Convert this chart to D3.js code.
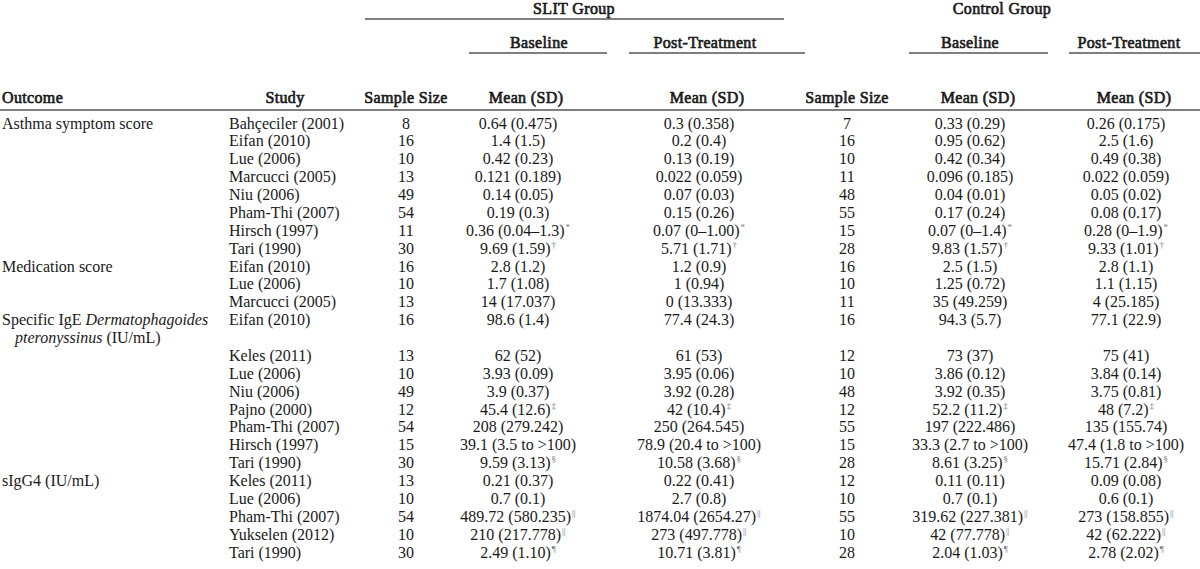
<!DOCTYPE html>
<html>
<head>
<meta charset="utf-8">
<script src="https://cdn.jsdelivr.net/npm/d3@7"></script>
<style>
  body { margin: 0; background: #fff; }
  svg { display: block; }
  text { font-family: "Liberation Serif", "Times New Roman", serif; fill: #1a1a1a; }
</style>
</head>
<body>
<div id="tbl"></div>
<script>
// table contents
const outcomeNames = ["Asthma symptom score", "Medication score",
  "Specific IgE Dermatophagoides\npteronyssinus (IU/mL)", "sIgG4 (IU/mL)"];
const outcomeSizes = [8, 3, 8, 5];
const italicWords = ["Dermatophagoides", "pteronyssinus"];

const studies = ["Bahçeciler (2001)", "Eifan (2010)", "Lue (2006)", "Marcucci (2005)", "Niu (2006)",
  "Pham-Thi (2007)", "Hirsch (1997)", "Tari (1990)",
  "Eifan (2010)", "Lue (2006)", "Marcucci (2005)",
  "Eifan (2010)", "Keles (2011)", "Lue (2006)", "Niu (2006)", "Pajno (2000)", "Pham-Thi (2007)",
  "Hirsch (1997)", "Tari (1990)",
  "Keles (2011)", "Lue (2006)", "Pham-Thi (2007)", "Yukselen (2012)", "Tari (1990)"];

const slitN = [8, 16, 10, 13, 49, 54, 11, 30, 16, 10, 13, 16, 13, 10, 49, 12, 54, 15, 30, 13, 10, 54, 10, 30];
const ctrlN = [7, 16, 10, 11, 48, 55, 15, 28, 16, 10, 11, 16, 12, 10, 48, 12, 55, 15, 28, 12, 10, 55, 10, 28];

// "^" separates the footnote mark
const slitBase = ["0.64 (0.475)", "1.4 (1.5)", "0.42 (0.23)", "0.121 (0.189)", "0.14 (0.05)", "0.19 (0.3)",
  "0.36 (0.04\u20131.3)^*", "9.69 (1.59)^\u2020",
  "2.8 (1.2)", "1.7 (1.08)", "14 (17.037)",
  "98.6 (1.4)", "62 (52)", "3.93 (0.09)", "3.9 (0.37)", "45.4 (12.6)^\u2021", "208 (279.242)",
  "39.1 (3.5 to >100)", "9.59 (3.13)^\u00a7",
  "0.21 (0.37)", "0.7 (0.1)", "489.72 (580.235)^||", "210 (217.778)^||", "2.49 (1.10)^\u00b6"];
const slitPost = ["0.3 (0.358)", "0.2 (0.4)", "0.13 (0.19)", "0.022 (0.059)", "0.07 (0.03)", "0.15 (0.26)",
  "0.07 (0\u20131.00)^*", "5.71 (1.71)^\u2020",
  "1.2 (0.9)", "1 (0.94)", "0 (13.333)",
  "77.4 (24.3)", "61 (53)", "3.95 (0.06)", "3.92 (0.28)", "42 (10.4)^\u2021", "250 (264.545)",
  "78.9 (20.4 to >100)", "10.58 (3.68)^\u00a7",
  "0.22 (0.41)", "2.7 (0.8)", "1874.04 (2654.27)^||", "273 (497.778)^||", "10.71 (3.81)^\u00b6"];
const ctrlBase = ["0.33 (0.29)", "0.95 (0.62)", "0.42 (0.34)", "0.096 (0.185)", "0.04 (0.01)", "0.17 (0.24)",
  "0.07 (0\u20131.4)^*", "9.83 (1.57)^\u2020",
  "2.5 (1.5)", "1.25 (0.72)", "35 (49.259)",
  "94.3 (5.7)", "73 (37)", "3.86 (0.12)", "3.92 (0.35)", "52.2 (11.2)^\u2021", "197 (222.486)",
  "33.3 (2.7 to >100)", "8.61 (3.25)^\u00a7",
  "0.11 (0.11)", "0.7 (0.1)", "319.62 (227.381)^||", "42 (77.778)^||", "2.04 (1.03)^\u00b6"];
const ctrlPost = ["0.26 (0.175)", "2.5 (1.6)", "0.49 (0.38)", "0.022 (0.059)", "0.05 (0.02)", "0.08 (0.17)",
  "0.28 (0\u20131.9)^*", "9.33 (1.01)^\u2020",
  "2.8 (1.1)", "1.1 (1.15)", "4 (25.185)",
  "77.1 (22.9)", "75 (41)", "3.84 (0.14)", "3.75 (0.81)", "48 (7.2)^\u2021", "135 (155.74)",
  "47.4 (1.8 to >100)", "15.71 (2.84)^\u00a7",
  "0.09 (0.08)", "0.6 (0.1)", "273 (158.855)^||", "42 (62.222)^||", "2.78 (2.02)^\u00b6"];

const groupLabels = ["SLIT Group", "Control Group"];
const phaseLabels = ["Baseline", "Post-Treatment"];
const headLabels = ["Outcome", "Study", "Sample Size", "Mean (SD)", "Mean (SD)", "Sample Size", "Mean (SD)", "Mean (SD)"];

const W = 1200, H = 569;
const svg = d3.select("#tbl").append("svg")
  .attr("width", W).attr("height", H);

// column header centres
var colX = d3.scaleOrdinal()
  .domain(["outcome", "study", "n1", "b1", "p1", "n2", "b2", "p2"])
  .range([2, 285, 406, 526, 707, 847, 978, 1134]);
// values sit a little left of their header
var valX = d3.scaleOrdinal()
  .domain(["b1", "p1", "b2", "p2"])
  .range([518, 699, 970, 1126]);
var studyLeft = 229;

// line index of each study row (the wrapped outcome label takes an extra line)
var rowLine = [], line = 0;
outcomeSizes.forEach(function(size, g) {
  var extra = outcomeNames[g].split("\n").length - 1;
  for (var k = 0; k < size; k++) {
    rowLine.push(line);
    line += 1;
    if (k === 0) line += extra;
  }
});
var y = d3.scaleLinear().domain([0, line - 1]).range([123, 552]);

var fs = 16;
var rule = "#555";

// ---- header (bold face is faked with a thin stroke so it stays a serif)
var head = svg.append("g").attr("font-size", fs)
  .attr("stroke", "#1a1a1a").attr("stroke-width", 0.65)
  .attr("letter-spacing", 0.35);

head.selectAll(".grp").data(groupLabels).enter().append("text")
  .attr("class", "grp")
  .attr("x", function(d, i) { return i === 0 ? 574 : 1002; })
  .attr("y", 8).attr("dy", "0.35em")
  .attr("text-anchor", "middle")
  .text(function(d) { return d; });

svg.append("line").attr("x1", 365).attr("x2", 784).attr("y1", 19).attr("y2", 19)
  .attr("stroke", rule).attr("stroke-width", 1.4);

var phaseX = [[539, 705], [970, 1129]];
var phaseSpans = [[[469, 607], [629, 805]], [[909, 1048], [1069, 1200]]];
phaseX.forEach(function(xs, g) {
  xs.forEach(function(px, j) {
    head.append("text")
      .attr("x", px).attr("y", 42).attr("dy", "0.35em")
      .attr("text-anchor", "middle")
      .text(phaseLabels[j]);
    svg.append("line")
      .attr("x1", phaseSpans[g][j][0]).attr("x2", phaseSpans[g][j][1])
      .attr("y1", 53).attr("y2", 53)
      .attr("stroke", rule).attr("stroke-width", 1.4);
  });
});

head.selectAll(".col").data(headLabels).enter().append("text")
  .attr("class", "col")
  .attr("x", function(d, i) { return colX(colX.domain()[i]); })
  .attr("y", 97).attr("dy", "0.35em")
  .attr("text-anchor", function(d, i) { return i === 0 ? "start" : "middle"; })
  .text(function(d) { return d; });

svg.append("line").attr("x1", 0).attr("x2", W).attr("y1", 110).attr("y2", 110)
  .attr("stroke", rule).attr("stroke-width", 1.6);

// ---- body
var body = svg.append("g").attr("font-size", fs);

// outcome labels
var firstRow = d3.cumsum([0].concat(outcomeSizes.slice(0, -1)));
outcomeNames.forEach(function(name, g) {
  name.split("\n").forEach(function(ln, li) {
    var t = body.append("text")
      .attr("x", colX("outcome") + (li > 0 ? 13 : 0))
      .attr("y", y(rowLine[firstRow[g]] + li)).attr("dy", "0.35em");
    ln.split(/(\s+)/).forEach(function(w) {
      t.append("tspan")
        .attr("font-style", italicWords.indexOf(w) >= 0 ? "italic" : null)
        .text(w);
    });
  });
});

body.selectAll(".study").data(studies).enter().append("text")
  .attr("class", "study")
  .attr("x", studyLeft)
  .attr("y", function(d, i) { return y(rowLine[i]); }).attr("dy", "0.35em")
  .text(function(d) { return d; });

[["n1", slitN], ["n2", ctrlN]].forEach(function(c) {
  body.selectAll(".n-" + c[0]).data(c[1]).enter().append("text")
    .attr("x", colX(c[0]))
    .attr("y", function(d, i) { return y(rowLine[i]); }).attr("dy", "0.35em")
    .attr("text-anchor", "middle")
    .text(function(d) { return d; });
});

[["b1", slitBase], ["p1", slitPost], ["b2", ctrlBase], ["p2", ctrlPost]].forEach(function(c) {
  c[1].forEach(function(v, i) {
    var parts = v.split("^");
    var t = body.append("text")
      .attr("x", valX(c[0]))
      .attr("y", y(rowLine[i])).attr("dy", "0.35em")
      .attr("text-anchor", "middle");
    t.append("tspan").text(parts[0]);
    if (parts[1]) {
      t.append("tspan")
        .attr("dx", 1).attr("dy", -6)
        .attr("font-size", 9)
        .attr("fill", "#777")
        .text(parts[1]);
    }
  });
});
</script>
</body>
</html>
